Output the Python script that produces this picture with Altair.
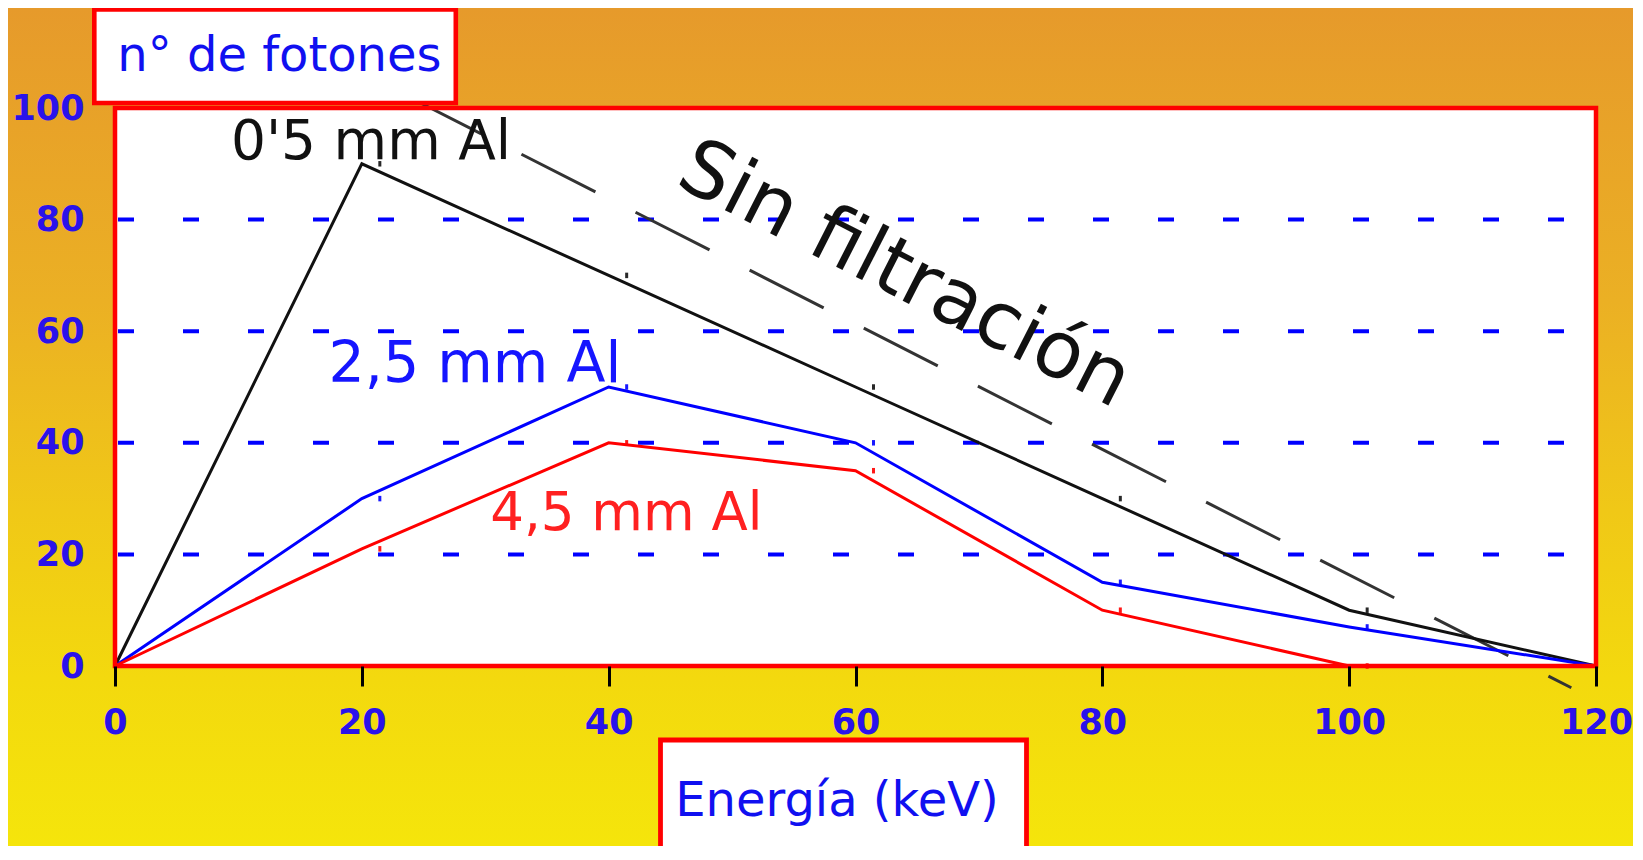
import altair as alt
import pandas as pd

# ---------------- data ----------------
energy = [0, 20, 40, 60, 80, 100, 120]          # keV
al_05 = [0, 90, 70, 50, 30, 10, 0]              # 0'5 mm Al
al_25 = [0, 30, 50, 40, 15, 7, 0]               # 2,5 mm Al
al_45 = [0, 21, 40, 35, 10, 0, 0]               # 4,5 mm Al
sin_filtro_x = [8.3, 118.0]                     # "Sin filtración" straight dashed line
sin_filtro_y = [119.4, -3.9]
grid_levels = [20, 40, 60, 80]
x_tick_values = [0, 20, 40, 60, 80, 100, 120]
y_tick_values = [0, 20, 40, 60, 80, 100]
series_names = ["4,5 mm Al", "2,5 mm Al", "0'5 mm Al"]
series_colors = ["#FF0000", "#0000FF", "#111111"]

FONT = "DejaVu Sans"
W, H = 1481, 558
PAD = {"left": 107, "top": 100, "right": 37, "bottom": 180}

rows = []
for name, vals in zip(["0'5 mm Al", "2,5 mm Al", "4,5 mm Al"], [al_05, al_25, al_45]):
    for e, v in zip(energy, vals):
        rows.append({"serie": name, "energia": e, "fotones": v})
lines_df = pd.DataFrame(rows)
marks_df = lines_df[(lines_df["energia"] > 0) & (lines_df["energia"] < 120)]

xs = alt.Scale(domain=[0, 120], nice=False, zero=False)
ys = alt.Scale(domain=[0, 100], nice=False, zero=False)
cs = alt.Scale(domain=series_names, range=series_colors)

x_axis = alt.Axis(
    values=x_tick_values, title=None, domain=False, grid=False,
    ticks=True, tickColor="#000000", tickWidth=3, tickSize=20,
    labelFont=FONT, labelFontSize=35, labelFontWeight="bold",
    labelColor="#2A12EA", labelPadding=36, labelBaseline="middle",
    labelFlush=False, labelOverlap=False, zindex=1)
y_axis = alt.Axis(
    values=y_tick_values, title=None, domain=False, grid=False,
    ticks=False, tickSize=0, labelFont=FONT, labelFontSize=35,
    labelFontWeight="bold", labelColor="#2A12EA", labelPadding=31,
    labelFlush=False, labelOverlap=False, zindex=1)

# ---------------- background gradient ----------------
grad = alt.LinearGradient(
    gradient="linear",
    stops=[
        alt.GradientStop(color="#E69A2B", offset=0),
        alt.GradientStop(color="#EBB024", offset=0.35),
        alt.GradientStop(color="#F0C817", offset=0.6),
        alt.GradientStop(color="#F3D90E", offset=0.8),
        alt.GradientStop(color="#F5E50B", offset=1),
    ],
    x1=0, x2=0, y1=0, y2=1,
)
one = pd.DataFrame({"k": [0]})
bg = alt.Chart(one).mark_rect(fill=grad, strokeWidth=0).encode(
    x=alt.value(-PAD["left"]), x2=alt.value(W + PAD["right"]),
    y=alt.value(-PAD["top"]), y2=alt.value(H + PAD["bottom"]),
)

# ---------------- plot area ----------------
area_df = pd.DataFrame({"x0": [0], "x1": [120], "y0": [0], "y1": [100]})
plot_bg = alt.Chart(area_df).mark_rect(fill="white", strokeWidth=0).encode(
    x=alt.X("x0:Q", scale=xs, axis=x_axis), x2="x1:Q",
    y=alt.Y("y0:Q", scale=ys, axis=y_axis), y2="y1:Q",
)

grid = alt.Chart(pd.DataFrame({"g": grid_levels})).mark_rule(
    color="#0000FF", strokeWidth=4, strokeDash=[16, 49], strokeDashOffset=33
).encode(y=alt.Y("g:Q", scale=ys, axis=y_axis))

sin_df = pd.DataFrame({"x": sin_filtro_x, "y": sin_filtro_y})
sin_line = alt.Chart(sin_df).mark_line(
    color="#333333", strokeWidth=3, strokeDash=[83, 45], strokeDashOffset=43, clip=False
).encode(x=alt.X("x:Q", scale=xs, axis=x_axis), y=alt.Y("y:Q", scale=ys, axis=y_axis))

lines = alt.Chart(lines_df).mark_line(strokeWidth=3).encode(
    x=alt.X("energia:Q", scale=xs, axis=x_axis),
    y=alt.Y("fotones:Q", scale=ys, axis=y_axis),
    color=alt.Color("serie:N", scale=cs, legend=None),
    order=alt.Order("energia:Q"),
)

# small tick markers drawn just right of each vertex (as in the original)
markers = alt.Chart(marks_df).mark_point(
    shape="M0,-1L0,1", size=30, strokeWidth=3, filled=False, xOffset=18, opacity=0.9
).encode(
    x=alt.X("energia:Q", scale=xs, axis=x_axis),
    y=alt.Y("fotones:Q", scale=ys, axis=y_axis),
    color=alt.Color("serie:N", scale=cs, legend=None),
)

border = alt.Chart(area_df).mark_rect(fill=None, stroke="#FF0000", strokeWidth=4.5).encode(
    x=alt.X("x0:Q", scale=xs, axis=x_axis), x2="x1:Q",
    y=alt.Y("y0:Q", scale=ys, axis=y_axis), y2="y1:Q",
)

# ---------------- axis title boxes ----------------
ybox = alt.Chart(one).mark_rect(fill="white", stroke="#FF0000", strokeWidth=4.6).encode(
    x=alt.value(-20.7), x2=alt.value(340.8), y=alt.value(-98.5), y2=alt.value(-5),
)
ytitle = alt.Chart(one).mark_text(
    text="n° de fotones", font=FONT, fontSize=48, color="#1010F0",
    align="center", baseline="alphabetic"
).encode(x=alt.value(164.4), y=alt.value(-37.3))

xbox = alt.Chart(one).mark_rect(fill="white", stroke="#FF0000", strokeWidth=4.8).encode(
    x=alt.value(545.5), x2=alt.value(911.5), y=alt.value(632), y2=alt.value(H + PAD["bottom"] + 20),
)
xtitle = alt.Chart(one).mark_text(
    text="Energía (keV)", font=FONT, fontSize=48, color="#1010F0",
    align="center", baseline="alphabetic"
).encode(x=alt.value(722), y=alt.value(708))

# ---------------- series labels ----------------
def label(txt, x, y, color, size, angle=0, align="left", baseline="alphabetic"):
    return alt.Chart(pd.DataFrame({"x": [x], "y": [y]})).mark_text(
        text=txt, font=FONT, fontSize=size, color=color, align=align,
        baseline=baseline, angle=angle
    ).encode(x=alt.X("x:Q", scale=xs, axis=x_axis), y=alt.Y("y:Q", scale=ys, axis=y_axis))

lab05 = label("0'5 mm Al", 9.4, 90.9, "#111111", 55)
lab25 = label("2,5 mm Al", 17.3, 50.9, "#1515FF", 57)
lab45 = label("4,5 mm Al", 30.4, 24.4, "#FF2020", 53)
lab_sin = label("Sin filtración", 64.0, 70.1, "#111111", 79, angle=27, align="center", baseline="middle")

chart = alt.layer(
    bg, plot_bg, grid, sin_line, lines, markers, border, ybox, ytitle, xbox, xtitle,
    lab05, lab25, lab45, lab_sin
).properties(
    width=W, height=H, padding=PAD, autosize=alt.AutoSizeParams(type="none"),
    background="white",
).configure_view(strokeWidth=0)

chart.save("out.html", embed_options={"renderer": "svg", "actions": False})
